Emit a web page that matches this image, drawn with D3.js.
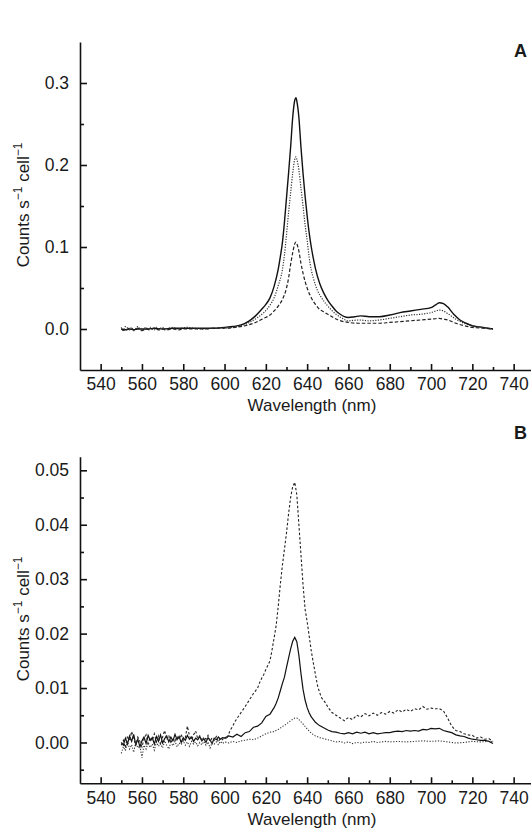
<!DOCTYPE html>
<html>
<head>
<meta charset="utf-8">
<script src="https://cdn.jsdelivr.net/npm/d3@7"></script>
<style>
  body { margin: 0; background: #fff; }
  svg text { font-family: "Liberation Sans", Arial, sans-serif; fill: #1a1a1a; }
</style>
</head>
<body>
<script>
var w = 531;
var h = 829;

// panel A : [wavelength nm, counts s-1 cell-1]
var aSolid = [[550,0.000],[552,-0.001],[554,0.000],[556,-0.001],[558,0.000],[560,0.000],[563,0.000],[566,0.001],[570,0.000],[575,0.001],[580,0.001],[585,0.001],[590,0.001],[595,0.001],[600,0.002],[604,0.003],[608,0.005],[612,0.010],[615,0.016],[618,0.024],[620,0.030],[622,0.038],[624,0.052],[626,0.073],[627,0.088],[628,0.105],[629,0.130],[630,0.160],[631,0.190],[632,0.222],[633,0.258],[634,0.279],[634.6,0.282],[635,0.278],[636,0.258],[637,0.222],[638,0.190],[639,0.162],[640,0.138],[641,0.117],[642,0.100],[643,0.086],[644,0.074],[646,0.056],[648,0.044],[650,0.035],[652,0.028],[654,0.022],[656,0.018],[658,0.015],[660,0.014],[663,0.015],[666,0.016],[670,0.015],[675,0.015],[680,0.017],[685,0.020],[690,0.022],[695,0.024],[700,0.026],[702,0.029],[704,0.032],[706,0.031],[708,0.027],[711,0.018],[714,0.011],[717,0.007],[720,0.004],[725,0.002],[730,0.000]];
var aDotted = [[550,0.002],[551,-0.002],[552,0.003],[554,-0.001],[555,0.002],[556,-0.002],[558,0.003],[559,0.000],[560,-0.002],[562,0.002],[563,-0.001],[564,0.002],[566,-0.001],[567,0.002],[568,0.000],[570,0.002],[571,-0.001],[573,0.001],[575,0.002],[577,0.000],[579,0.001],[582,0.002],[585,0.001],[590,0.000],[595,0.001],[600,0.001],[604,0.002],[608,0.004],[612,0.008],[616,0.014],[619,0.020],[622,0.029],[624,0.038],[626,0.053],[628,0.072],[629,0.090],[630,0.115],[631,0.142],[632,0.166],[633,0.190],[634,0.207],[634.6,0.210],[635,0.207],[636,0.194],[637,0.172],[638,0.150],[639,0.127],[640,0.108],[641,0.087],[642,0.072],[643,0.062],[645,0.047],[647,0.038],[650,0.028],[654,0.018],[657,0.013],[660,0.010],[665,0.011],[670,0.010],[675,0.011],[680,0.013],[685,0.015],[690,0.017],[695,0.018],[700,0.020],[704,0.023],[706,0.022],[708,0.019],[712,0.012],[716,0.007],[720,0.004],[725,0.002],[730,0.000]];
var aDashed = [[550,0.000],[552,-0.002],[554,0.001],[556,-0.001],[558,0.001],[560,-0.002],[562,0.000],[564,-0.001],[566,0.001],[568,-0.001],[570,0.000],[572,-0.001],[575,0.000],[578,-0.001],[580,0.000],[585,0.000],[590,0.000],[595,0.001],[600,0.001],[605,0.002],[610,0.004],[615,0.008],[619,0.013],[622,0.017],[624,0.022],[626,0.028],[628,0.036],[630,0.050],[631,0.062],[632,0.079],[633,0.093],[634,0.104],[634.6,0.106],[635,0.104],[636,0.095],[637,0.080],[638,0.068],[639,0.058],[640,0.050],[642,0.038],[644,0.030],[646,0.024],[648,0.021],[650,0.018],[655,0.011],[660,0.008],[665,0.007],[670,0.007],[675,0.007],[680,0.008],[685,0.009],[690,0.010],[695,0.011],[700,0.012],[704,0.013],[706,0.012],[708,0.011],[712,0.007],[716,0.004],[720,0.002],[725,0.001],[730,0.000]];

// panel B
var bSolid = [[550,0.0000],[551,-0.0005],[552,0.0008],[553,-0.0003],[554,0.0012],[555,0.0002],[556,0.0015],[557,-0.0004],[558,0.0006],[559,-0.0008],[560,0.0003],[561,0.0010],[562,-0.0002],[563,0.0013],[564,0.0004],[565,0.0009],[566,-0.0003],[567,0.0011],[568,0.0002],[569,0.0014],[570,-0.0001],[571,0.0007],[572,0.0012],[573,0.0001],[574,0.0010],[575,0.0003],[576,0.0015],[577,0.0005],[578,0.0011],[579,0.0000],[580,0.0009],[581,0.0004],[582,0.0013],[583,0.0006],[584,0.0010],[585,0.0002],[586,0.0008],[587,0.0005],[588,0.0011],[589,0.0003],[590,0.0007],[591,0.0000],[592,0.0009],[593,0.0004],[594,-0.0002],[595,0.0008],[596,0.0005],[597,0.0010],[598,0.0006],[599,0.0009],[600,0.0008],[602,0.0012],[604,0.0010],[606,0.0015],[608,0.0011],[610,0.0018],[612,0.0020],[614,0.0028],[616,0.0030],[618,0.0036],[620,0.0048],[621,0.0050],[622,0.0052],[623,0.0058],[624,0.0064],[625,0.0072],[626,0.0082],[627,0.0095],[628,0.0108],[629,0.0120],[630,0.0138],[631,0.0155],[632,0.0172],[633,0.0186],[634,0.0193],[635,0.0185],[636,0.0160],[637,0.0127],[638,0.0098],[639,0.0078],[640,0.0064],[641,0.0054],[642,0.0047],[644,0.0037],[646,0.0031],[648,0.0027],[650,0.0023],[652,0.0020],[654,0.0019],[656,0.0017],[658,0.0016],[660,0.0018],[662,0.0016],[664,0.0019],[666,0.0017],[668,0.0019],[670,0.0016],[672,0.0018],[674,0.0016],[676,0.0017],[678,0.0018],[680,0.0018],[682,0.0020],[684,0.0021],[686,0.0020],[688,0.0022],[690,0.0021],[692,0.0022],[694,0.0021],[696,0.0024],[698,0.0023],[700,0.0026],[702,0.0025],[704,0.0026],[706,0.0022],[708,0.0020],[710,0.0018],[712,0.0014],[714,0.0012],[716,0.0011],[718,0.0008],[720,0.0006],[722,0.0005],[724,0.0004],[726,0.0004],[728,0.0002],[730,-0.0002]];
var bDashed = [[550,-0.0005],[551,0.0004],[552,-0.0010],[553,0.0012],[554,0.0003],[555,0.0020],[556,0.0008],[557,-0.0006],[558,0.0010],[559,0.0002],[560,-0.0008],[561,0.0006],[562,0.0014],[563,-0.0002],[564,0.0009],[565,0.0003],[566,0.0016],[567,0.0001],[568,0.0012],[569,-0.0004],[570,0.0010],[571,0.0022],[572,0.0005],[573,0.0013],[574,-0.0001],[575,0.0008],[576,0.0002],[577,0.0011],[578,0.0006],[579,0.0015],[580,0.0004],[581,0.0009],[582,0.0030],[583,0.0012],[584,0.0005],[585,0.0014],[586,0.0021],[587,0.0007],[588,0.0012],[589,0.0003],[590,0.0010],[591,0.0006],[592,0.0013],[593,0.0002],[594,0.0009],[595,0.0004],[596,0.0011],[597,0.0001],[598,0.0008],[599,0.0005],[600,0.0010],[601,0.0006],[602,0.0016],[603,0.0024],[604,0.0030],[605,0.0038],[606,0.0044],[608,0.0055],[610,0.0066],[612,0.0078],[614,0.0090],[616,0.0100],[617,0.0110],[618,0.0118],[619,0.0125],[620,0.0134],[621,0.0142],[622,0.0150],[623,0.0170],[624,0.0192],[625,0.0215],[626,0.0250],[627,0.0290],[628,0.0325],[629,0.0355],[630,0.0385],[631,0.0420],[632,0.0450],[633,0.0470],[634,0.0478],[635,0.0455],[636,0.0400],[637,0.0345],[638,0.0290],[639,0.0245],[640,0.0222],[641,0.0195],[642,0.0168],[643,0.0146],[644,0.0125],[645,0.0105],[646,0.0092],[647,0.0082],[648,0.0077],[649,0.0072],[650,0.0065],[652,0.0055],[654,0.0050],[656,0.0045],[658,0.0040],[660,0.0046],[662,0.0042],[664,0.0050],[666,0.0047],[668,0.0053],[670,0.0049],[672,0.0054],[674,0.0050],[676,0.0055],[678,0.0052],[680,0.0057],[682,0.0054],[684,0.0060],[686,0.0056],[688,0.0061],[690,0.0057],[692,0.0062],[694,0.0060],[696,0.0066],[698,0.0061],[700,0.0063],[702,0.0062],[704,0.0062],[706,0.0058],[708,0.0045],[710,0.0030],[712,0.0022],[714,0.0020],[716,0.0016],[718,0.0014],[720,0.0013],[722,0.0008],[724,0.0010],[726,0.0006],[728,0.0007],[730,0.0002]];
var bDotted = [[550,-0.0020],[551,-0.0008],[552,-0.0015],[553,0.0002],[554,-0.0012],[555,-0.0004],[556,-0.0018],[557,0.0001],[558,-0.0010],[559,-0.0006],[560,-0.0028],[561,-0.0005],[562,-0.0012],[563,0.0000],[564,-0.0009],[565,-0.0003],[566,-0.0014],[567,0.0001],[568,-0.0007],[569,-0.0002],[570,-0.0010],[571,0.0003],[572,-0.0005],[573,-0.0012],[574,0.0000],[575,-0.0006],[576,0.0002],[577,-0.0008],[578,-0.0001],[579,-0.0004],[580,0.0003],[581,-0.0005],[582,0.0001],[583,-0.0007],[584,0.0002],[585,-0.0003],[586,0.0001],[587,-0.0006],[588,0.0000],[589,-0.0004],[590,0.0002],[591,-0.0005],[592,0.0001],[593,-0.0010],[594,0.0000],[595,-0.0003],[596,0.0001],[597,-0.0004],[598,0.0002],[599,-0.0002],[600,0.0001],[602,-0.0001],[604,0.0002],[606,0.0000],[608,0.0003],[610,0.0004],[612,0.0006],[614,0.0005],[616,0.0008],[618,0.0012],[620,0.0016],[622,0.0019],[624,0.0020],[626,0.0024],[628,0.0029],[630,0.0034],[632,0.0040],[634,0.0045],[635,0.0045],[636,0.0042],[638,0.0034],[640,0.0025],[642,0.0017],[644,0.0012],[646,0.0009],[648,0.0007],[650,0.0005],[652,0.0003],[654,0.0001],[656,0.0002],[658,-0.0001],[660,0.0001],[662,-0.0002],[664,0.0000],[666,-0.0001],[668,0.0001],[670,0.0000],[672,0.0002],[674,0.0000],[676,0.0001],[678,0.0002],[680,0.0001],[684,0.0002],[688,0.0001],[692,0.0002],[696,0.0003],[700,0.0002],[704,0.0003],[708,0.0001],[712,-0.0001],[716,0.0000],[720,0.0002],[724,0.0001],[728,0.0002],[730,0.0001]];

var xTicks = [540,560,580,600,620,640,660,680,700,720,740];
var xMinor = [550,570,590,610,630,650,670,690,710,730];
var aTicks = [0, 0.1, 0.2, 0.3];
var aMinor = [0.05, 0.15, 0.25];
var bTicks = [0, 0.01, 0.02, 0.03, 0.04, 0.05];
var bMinor = [-0.005, 0.005, 0.015, 0.025, 0.035, 0.045];

var svg = d3.select("body")
            .append("svg")
              .attr("width", w)
              .attr("height", h);

var x = d3.scaleLinear().domain([530, 750]).range([80, 534.3]);

function styleAxis(g) {
  g.attr("font-size", 17.5)
   .attr("font-family", null);
  g.selectAll("path, line")
   .attr("stroke", "#111")
   .attr("stroke-width", 1.6);
  g.selectAll("text").attr("fill", "#1a1a1a");
}

function drawPanel(p) {
  var y = d3.scaleLinear().domain(p.yDomain).range([p.bottom, p.top]);
  var g = svg.append("g");

  // lines first, axes on top
  var line = d3.line()
    .x(function(d) { return x(d[0]); })
    .y(function(d) { return y(d[1]); })
    .curve(p.curve);

  p.series.forEach(function(s) {
    g.append("path")
      .datum(s.data)
      .attr("fill", "none")
      .attr("stroke", s.color)
      .attr("stroke-width", s.width)
      .attr("stroke-dasharray", s.dash)
      .attr("d", line);
  });

  g.append("g")
    .attr("transform", "translate(0," + p.bottom + ")")
    .call(d3.axisBottom(x).tickValues(xTicks).tickSize(-6).tickSizeOuter(0)
            .tickPadding(8).tickFormat(d3.format("d")))
    .call(styleAxis);
  g.append("g")
    .attr("transform", "translate(0," + p.bottom + ")")
    .call(d3.axisBottom(x).tickValues(xMinor).tickSize(-3).tickFormat(""))
    .call(styleAxis)
    .select(".domain").remove();

  g.append("g")
    .attr("transform", "translate(80,0)")
    .call(d3.axisLeft(y).tickValues(p.yTicks).tickSize(-7).tickSizeOuter(0)
            .tickPadding(11).tickFormat(d3.format(p.fmt)))
    .call(styleAxis);
  g.append("g")
    .attr("transform", "translate(80,0)")
    .call(d3.axisLeft(y).tickValues(p.yMinor).tickSize(-4).tickFormat(""))
    .call(styleAxis)
    .select(".domain").remove();

  g.append("text")
    .attr("x", 312)
    .attr("y", p.xTitleY)
    .attr("text-anchor", "middle")
    .attr("font-size", 17)
    .text("Wavelength (nm)");

  var t = g.append("text")
    .attr("transform", "translate(29," + p.yTitleMid + ") rotate(-90)")
    .attr("text-anchor", "middle")
    .attr("font-size", 17);
  t.append("tspan").text("Counts s");
  t.append("tspan").attr("dy", -7).attr("font-size", 12).text("\u22121");
  t.append("tspan").attr("dy", 7).text(" cell");
  t.append("tspan").attr("dy", -7).attr("font-size", 12).text("\u22121");

  g.append("text")
    .attr("x", 527)
    .attr("y", p.letterY)
    .attr("text-anchor", "end")
    .attr("font-size", 18)
    .attr("font-weight", "bold")
    .text(p.letter);
}

drawPanel({
  yDomain: [-0.05, 0.35], top: 42, bottom: 370,
  yTicks: aTicks, yMinor: aMinor, fmt: ".1f",
  curve: d3.curveMonotoneX,
  xTitleY: 411, yTitleMid: 205, letter: "A", letterY: 57,
  series: [
    { data: aSolid, color: "#111", width: 1.4, dash: null },
    { data: aDotted, color: "#333", width: 1.2, dash: "1.2,1.4" },
    { data: aDashed, color: "#222", width: 1.2, dash: "3.5,2" }
  ]
});

drawPanel({
  yDomain: [-0.0075, 0.0525], top: 456.7, bottom: 783.3,
  yTicks: bTicks, yMinor: bMinor, fmt: ".2f",
  curve: d3.curveLinear,
  xTitleY: 824.5, yTitleMid: 619, letter: "B", letterY: 439,
  series: [
    { data: bSolid, color: "#111", width: 1.2, dash: null },
    { data: bDotted, color: "#333", width: 1.1, dash: "1.2,1.6" },
    { data: bDashed, color: "#222", width: 1.1, dash: "2.5,2" }
  ]
});
</script>
</body>
</html>
